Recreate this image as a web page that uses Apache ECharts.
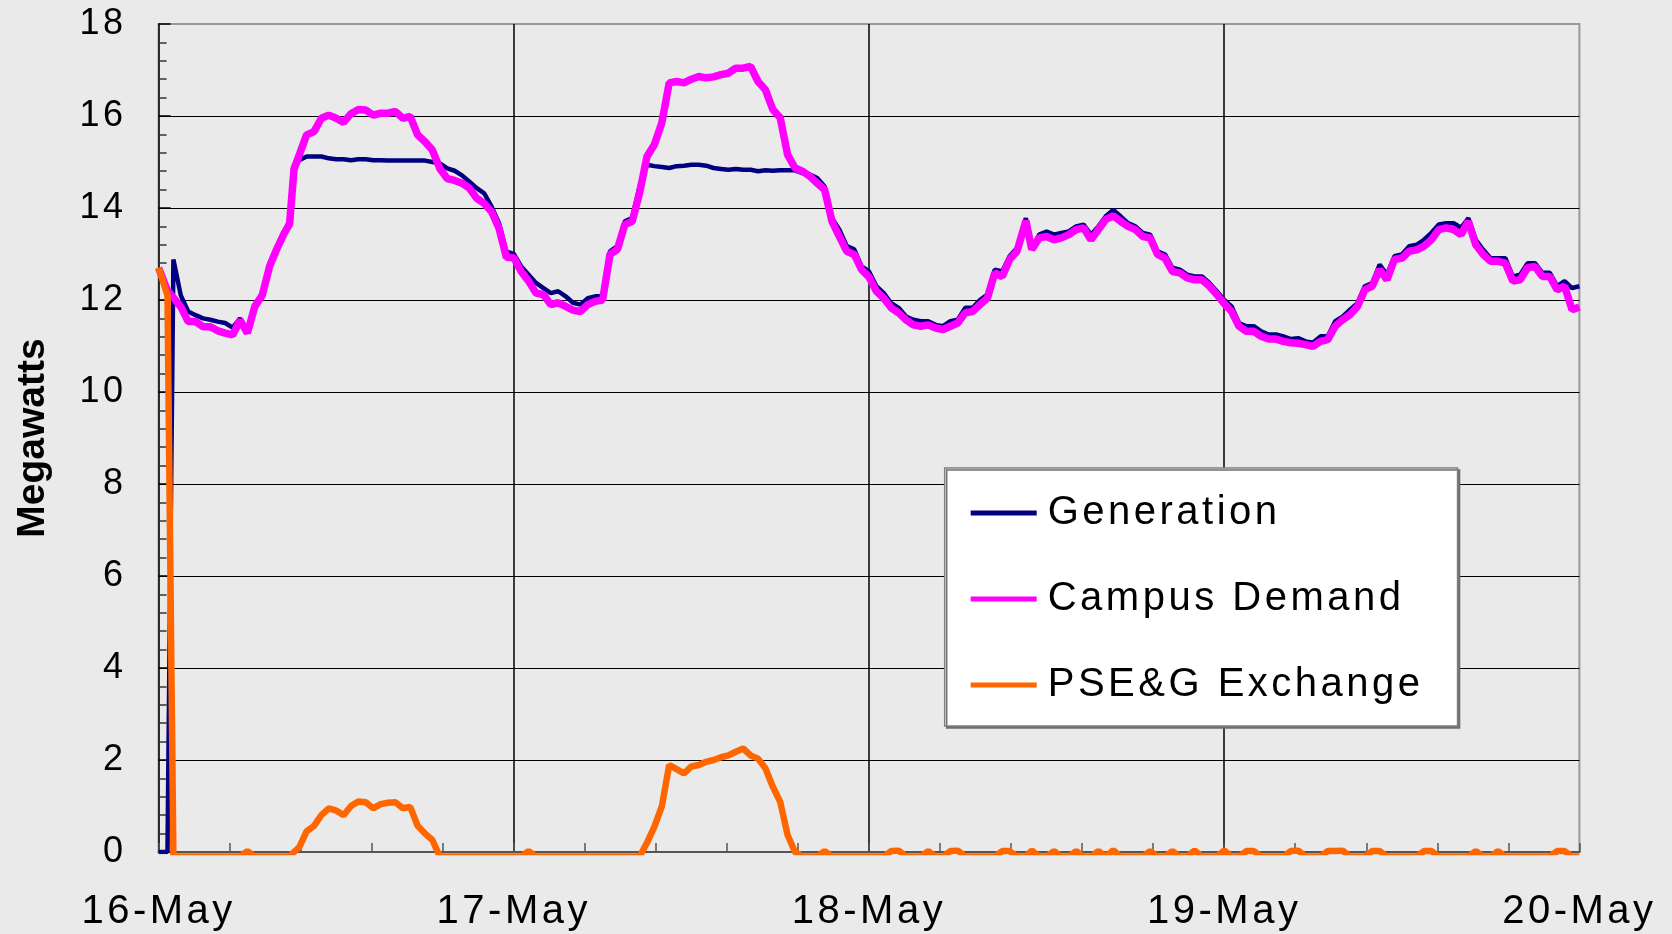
<!DOCTYPE html>
<html>
<head>
<meta charset="utf-8">
<script src="https://cdn.jsdelivr.net/npm/echarts@6/dist/echarts.min.js"></script>
<style>
html,body{margin:0;padding:0;background:#EAEAEA;}
#chart{width:1672px;height:934px;}
</style>
</head>
<body>
<div id="chart"></div>
<script>
// Hours since 16-May 00:00 (main readings)
const hours = [
  0, 0.6, 1, 1.5, 2, 3, 4, 5, 6, 7, 8, 8.85, 9.15, 10, 11, 12, 13, 14, 15, 16, 17, 18, 19, 20, 21, 22, 23,
  24, 25, 26, 27, 28, 29, 30, 31, 32, 33, 34, 35, 36, 37, 38, 39, 40, 41, 42, 43, 44, 45, 46, 47,
  48, 49, 50, 51, 52, 53, 54, 55, 56, 57, 58, 58.6, 59, 60, 61, 62, 63, 64, 64.5, 65, 66, 67, 68, 69, 70, 71,
  72, 73, 74, 75, 76, 77, 78, 79, 80, 81, 82, 83, 84, 85, 86, 87, 88, 88.5, 89, 90, 91, 92, 93, 94, 95, 96
];
const generation = [
  0, 0, 12.88, 12.1, 11.75, 11.6, 11.53, 11.4, 11.3, 12.15, 13.16, 13.72, 14.85, 15.12, 15.12, 15.06, 15.04, 15.06, 15.04, 15.03, 15.03, 15.03, 14.97, 14.81, 14.57, 14.32, 13.67,
  13.0, 12.55, 12.26, 12.19, 11.94, 12.04, 12.08, 13.17, 13.78, 14.94, 14.89, 14.91, 14.94, 14.92, 14.85, 14.85, 14.83, 14.82, 14.82, 14.82, 14.73, 14.47, 13.53, 13.1,
  12.62, 12.15, 11.83, 11.57, 11.54, 11.43, 11.57, 11.83, 12.12, 12.62, 13.13, 13.78, 13.13, 13.49, 13.46, 13.6, 13.42, 13.82, 13.96, 13.82, 13.6, 13.42, 12.99, 12.66, 12.51, 12.37,
  12.0, 11.5, 11.43, 11.25, 11.21, 11.17, 11.07, 11.21, 11.64, 11.93, 12.37, 12.55, 12.99, 13.2, 13.46, 13.67, 13.57, 13.78, 13.31, 12.91, 12.91, 12.55, 12.8, 12.59, 12.41, 12.3
];
const campusDemand = [
  12.7, 12.2, 12.05, 11.85, 11.53, 11.42, 11.33, 11.24, 11.28, 12.1, 13.12, 13.65, 14.85, 15.59, 15.95, 15.95, 16.05, 16.13, 16.06, 16.1, 15.99, 15.44, 14.86, 14.6, 14.43, 14.1, 13.56,
  12.92, 12.41, 12.12, 11.94, 11.78, 11.9, 12.0, 13.1, 13.71, 15.12, 15.85, 16.75, 16.8, 16.83, 16.9, 17.04, 17.08, 16.57, 15.96, 14.87, 14.69, 14.4, 13.38, 12.99,
  12.5, 12.04, 11.72, 11.46, 11.46, 11.36, 11.5, 11.75, 12.04, 12.51, 13.06, 13.72, 13.1, 13.38, 13.35, 13.53, 13.31, 13.75, 13.83, 13.71, 13.53, 13.35, 12.91, 12.59, 12.44, 12.3,
  11.92, 11.43, 11.32, 11.15, 11.1, 11.06, 10.99, 11.14, 11.57, 11.86, 12.3, 12.44, 12.91, 13.09, 13.31, 13.57, 13.42, 13.71, 13.2, 12.84, 12.8, 12.44, 12.73, 12.51, 12.3, 11.85
];
const exchange = [
  12.7, 12.1, -0.1, -0.1, -0.1, -0.1, -0.1, -0.1, 0.02, -0.1, -0.1, -0.1, 0, 0.45, 0.8, 0.9, 1.0, 1.08, 1.04, 1.08, 0.98, 0.4, -0.1, -0.1, -0.1, -0.1, -0.1,
  -0.1, 0.02, -0.1, -0.1, -0.1, -0.1, -0.1, -0.1, -0.1, 0.2, 0.99, 1.8, 1.86, 1.96, 2.06, 2.18, 2.1, 1.82, 1.09, 0.0, -0.1, 0.02, -0.1, -0.1,
  -0.1, -0.1, 0.03, -0.1, 0.02, -0.1, 0.03, -0.1, -0.1, 0.02, -0.1, -0.1, 0.03, -0.1, -0.1, 0.02, -0.1, -0.1, 0.04, -0.1, -0.1, 0.02, -0.1, -0.1, 0.03, -0.1,
  0.03, -0.1, 0.02, -0.1, -0.1, 0.03, -0.1, 0.02, 0.03, -0.1, 0.02, -0.1, -0.1, -0.1, 0.02, -0.1, -0.1, -0.1, 0.02, -0.1, -0.1, -0.1, -0.1, -0.1, 0.02, -0.1
];
// Additional half-hour readings
const halfHours = [
  2.5, 3.5, 4.5, 5.5, 6.5, 7.5, 8.5, 9.5, 10.5, 11.5, 12.5, 13.5, 14.5, 15.5, 16.5, 17.5, 18.5, 19.5, 20.5, 21.5, 22.5, 23.5,
  24.5, 25.5, 26.5, 27.5, 28.5, 29.5, 30.5, 31.5, 32.5, 33.5, 34.5, 35.5, 36.5, 37.5, 38.5, 39.5, 40.5, 41.5, 42.5, 43.5, 44.5, 45.5, 46.5, 47.5,
  48.5, 49.5, 50.5, 51.5, 52.5, 53.5, 54.5, 55.5, 56.5, 57.5, 59.5, 60.5, 61.5, 62.5, 63.5, 65.5, 66.5, 67.5, 68.5, 69.5, 70.5, 71.5,
  72.5, 73.5, 74.5, 75.5, 76.5, 77.5, 78.5, 79.5, 80.5, 81.5, 82.5, 83.5, 84.5, 85.5, 86.5, 87.5, 89.5, 90.5, 91.5, 92.5, 93.5, 94.5, 95.5
];
const generationHalf = [
  11.67, 11.57, 11.5, 11.6, 11.86, 12.8, 13.5, 15.04, 15.12, 15.08, 15.06, 15.06, 15.04, 15.03, 15.03, 15.03, 15.0, 14.86, 14.71, 14.43, 14.03, 13.05,
  12.73, 12.37, 12.15, 12.08, 11.9, 12.08, 13.06, 13.71, 14.47, 14.91, 14.87, 14.92, 14.94, 14.87, 14.83, 14.83, 14.8, 14.81, 14.82, 14.76, 14.65, 13.78, 13.17, 12.73,
  12.3, 11.93, 11.64, 11.54, 11.46, 11.54, 11.83, 12.0, 12.66, 12.95, 13.42, 13.42, 13.49, 13.64, 13.6, 13.67, 13.46, 13.06, 12.7, 12.55, 12.51, 12.19,
  11.86, 11.43, 11.32, 11.25, 11.15, 11.1, 11.21, 11.54, 11.79, 12.3, 12.77, 12.95, 13.17, 13.31, 13.64, 13.67, 13.09, 12.91, 12.51, 12.8, 12.59, 12.3, 12.26
];
const campusDemandHalf = [
  11.53, 11.42, 11.28, 11.56, 11.86, 12.73, 13.46, 15.15, 15.66, 16.02, 15.86, 16.14, 16.02, 16.06, 15.95, 15.59, 15.26, 14.64, 14.54, 14.21, 13.92, 12.93,
  12.62, 12.15, 11.9, 11.86, 11.75, 11.97, 12.99, 13.64, 14.33, 15.38, 16.72, 16.72, 16.86, 16.85, 16.93, 17.04, 16.75, 16.14, 15.16, 14.8, 14.54, 13.71, 13.06, 12.66,
  12.19, 11.83, 11.57, 11.43, 11.39, 11.43, 11.72, 11.9, 12.59, 12.88, 13.35, 13.31, 13.42, 13.57, 13.53, 13.6, 13.38, 12.99, 12.62, 12.48, 12.44, 12.12,
  11.75, 11.32, 11.21, 11.15, 11.07, 11.03, 11.1, 11.43, 11.68, 12.22, 12.66, 12.88, 13.06, 13.17, 13.53, 13.53, 12.99, 12.84, 12.41, 12.7, 12.51, 12.22, 11.79
];
const exchangeHalf = [
  -0.1, -0.1, -0.1, -0.1, -0.1, -0.1, -0.1, 0.1, 0.57, 0.95, 0.8, 1.1, 0.95, 1.07, 0.95, 0.57, 0.26, -0.1, -0.1, -0.1, -0.1, -0.1,
  -0.1, -0.1, -0.1, -0.1, -0.1, -0.1, -0.1, -0.1, -0.1, 0.55, 1.89, 1.71, 1.89, 2.0, 2.1, 2.25, 2.03, 1.42, 0.37, -0.1, -0.1, -0.1, -0.1, -0.1,
  -0.1, 0.02, -0.1, -0.1, -0.1, 0.02, -0.1, -0.1, -0.1, 0.02, -0.1, 0.02, -0.1, -0.1, 0.02, -0.1, -0.1, -0.1, 0.02, -0.1, -0.1, -0.1,
  -0.1, 0.02, -0.1, -0.1, 0.02, -0.1, -0.1, 0.02, -0.1, -0.1, 0.02, -0.1, -0.1, 0.02, -0.1, -0.1, -0.1, 0.02, -0.1, -0.1, -0.1, 0.02, -0.1
];
const dateLabels = ['16-May', '17-May', '18-May', '19-May', '20-May'];
const seriesNames = ['Generation', 'Campus Demand', 'PSE&G Exchange'];

const FONT = 'Liberation Sans, Arial, sans-serif';
function merged(mainVals, halfVals) {
  const pts = hours.map((h, i) => [h, mainVals[i]])
    .concat(halfHours.map((h, i) => [h, halfVals[i]]));
  pts.sort((a, b) => a[0] - b[0]);
  return pts;
}

const chart = echarts.init(document.getElementById('chart'), null, {renderer: 'canvas'});

// Text layer (zlevel 1) gets the wide letter spacing of the original's labels.
const SPACING = '3.5px';
try {
  const painter = chart.getZr().painter;
  const lay = painter.getLayer(1);
  if (lay && lay.ctx) lay.ctx.letterSpacing = SPACING;
} catch (e) {}

chart.setOption({
  animation: false,
  backgroundColor: '#EAEAEA',
  grid: {
    left: 158.6, right: 92.6, top: 24, bottom: 82,
    show: true, borderColor: '#9A9A9A', borderWidth: 2, backgroundColor: 'transparent'
  },
  xAxis: [{
    type: 'value', min: 0, max: 96, interval: 24,
    axisLine: {show: true, onZero: false, lineStyle: {color: '#555', width: 2}},
    axisTick: {show: true, inside: true, length: 9, lineStyle: {color: '#555', width: 1.5}},
    minorTick: {show: true, splitNumber: 5, length: 9, lineStyle: {color: '#555', width: 1.5}},
    splitLine: {show: true, showMinLine: false, showMaxLine: false, lineStyle: {color: '#000', width: 1.5}},
    axisLabel: {show: false}
  }, {
    type: 'value', min: 0, max: 96, interval: 24, position: 'bottom', zlevel: 1,
    axisLine: {show: false}, axisTick: {show: false}, splitLine: {show: false},
    axisLabel: {
      margin: 40, fontSize: 40, fontFamily: FONT, color: '#000',
      formatter: v => { const i = Math.round(v / 24); return dateLabels[i] || ''; }
    }
  }],
  yAxis: [{
    type: 'value', min: 0, max: 18, interval: 2, position: 'left',
    name: 'Megawatts', nameLocation: 'middle', nameRotate: 90, nameGap: 106,
    nameTextStyle: {fontSize: 39, fontWeight: 'bold', fontFamily: FONT, color: '#000'},
    axisLine: {show: true, lineStyle: {color: '#000', width: 1.5}},
    axisTick: {show: true, inside: true, length: 12, lineStyle: {color: '#000', width: 1.5}},
    minorTick: {show: true, splitNumber: 5, length: 8, lineStyle: {color: '#333', width: 1.5}},
    splitLine: {show: true, showMinLine: false, showMaxLine: false, lineStyle: {color: '#000', width: 1}},
    axisLabel: {show: false}
  }, {
    type: 'value', min: 0, max: 18, interval: 2, position: 'left', zlevel: 1,
    axisLine: {show: false}, axisTick: {show: false}, splitLine: {show: false},
    axisLabel: {margin: 32, fontSize: 36, fontFamily: FONT, color: '#000'}
  }],
  legend: {
    orient: 'vertical', left: 944.7, top: 468, zlevel: 1,
    padding: [25, 83, 21, 26], itemGap: 46,
    itemWidth: 66, itemHeight: 5, icon: 'rect',
    backgroundColor: '#FFFFFF', borderColor: '#7F7F7F', borderWidth: 1.5,
    shadowColor: '#6F6F6F', shadowBlur: 0, shadowOffsetX: 2, shadowOffsetY: 2,
    textStyle: {fontSize: 40, fontFamily: FONT, color: '#000', padding: [0, 0, 0, 6]},
    data: seriesNames
  },
  series: [
    {name: seriesNames[0], type: 'line', data: merged(generation, generationHalf), showSymbol: false, symbol: 'none',
     lineStyle: {color: '#000080', width: 4.5}, itemStyle: {color: '#000080'}, z: 3},
    {name: seriesNames[1], type: 'line', data: merged(campusDemand, campusDemandHalf), showSymbol: false, symbol: 'none',
     lineStyle: {color: '#FF00FF', width: 7.5}, itemStyle: {color: '#FF00FF'}, z: 4},
    {name: seriesNames[2], type: 'line', data: merged(exchange, exchangeHalf), showSymbol: false, symbol: 'none',
     lineStyle: {color: '#FF6600', width: 6.5}, itemStyle: {color: '#FF6600'}, z: 5}
  ]
});

try {
  const painter = chart.getZr().painter;
  const lay = painter.getLayer(1);
  if (lay && lay.ctx && lay.ctx.letterSpacing !== SPACING) {
    lay.ctx.letterSpacing = SPACING;
    painter.refresh(true);
  }
} catch (e) {}
</script>
</body>
</html>
